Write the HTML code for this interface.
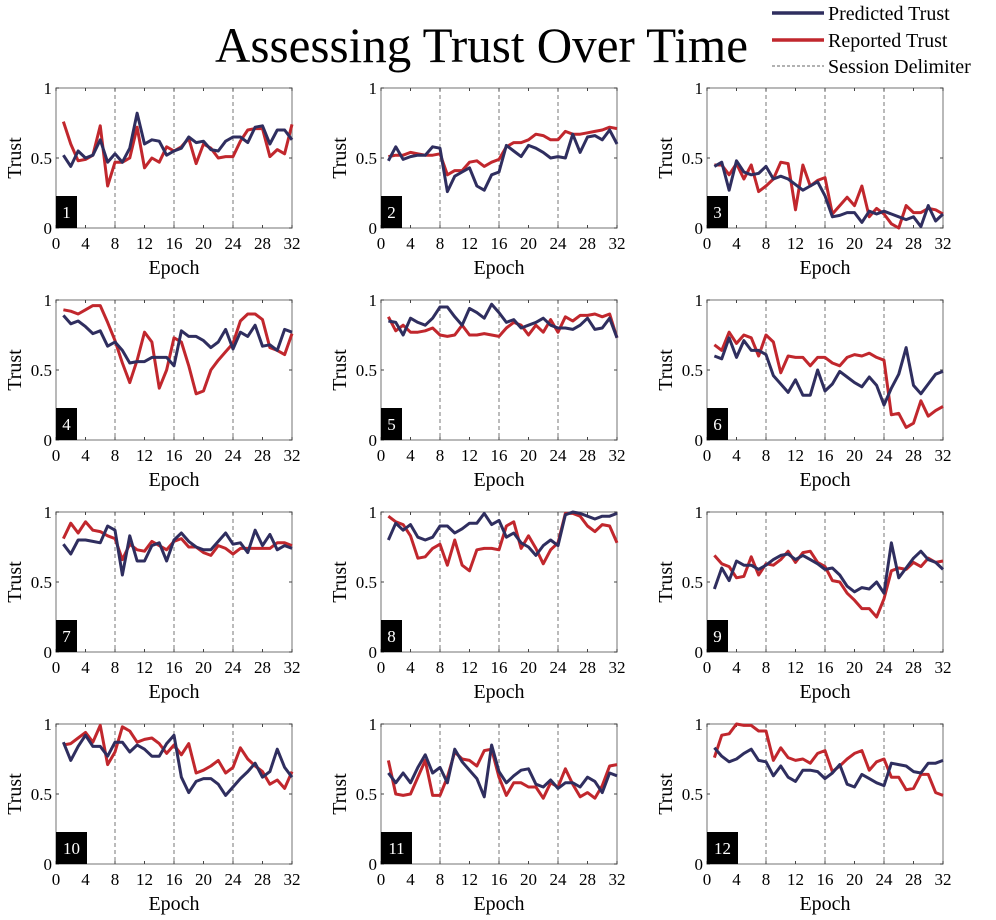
<!DOCTYPE html>
<html><head><meta charset="utf-8"><style>
body{margin:0;background:#fff;width:996px;height:915px;overflow:hidden;font-family:"Liberation Serif",serif}
svg text{font-family:"Liberation Serif",serif}
</style></head><body>
<svg id="chart" width="996" height="915" xmlns="http://www.w3.org/2000/svg">
<text x="215" y="62" font-size="50" textLength="533" lengthAdjust="spacingAndGlyphs">Assessing Trust Over Time</text>
<g>
<line x1="772" y1="13" x2="824" y2="13" stroke="#2f2e5f" stroke-width="3.5"/>
<text x="828" y="20" font-size="20">Predicted Trust</text>
<line x1="772" y1="40" x2="824" y2="40" stroke="#c1272d" stroke-width="3.5"/>
<text x="828" y="47" font-size="20">Reported Trust</text>
<line x1="772" y1="66" x2="824" y2="66" stroke="#666" stroke-width="1" stroke-dasharray="3,2"/>
<text x="828" y="73" font-size="20">Session Delimiter</text>
</g>
<g id="plots"></g>
</svg>
<script>
const epochs=[1,2,3,4,5,6,7,8,9,10,11,12,13,14,15,16,17,18,19,20,21,22,23,24,25,26,27,28,29,30,31,32];
const xTicks=[0,4,8,12,16,20,24,28,32];
const yTicks=[0,0.5,1];
const yTickLabels=["0","0.5","1"];
const delimiters=[8,16,24];
const predicted1=[.52,.44,.55,.50,.52,.63,.47,.53,.47,.57,.82,.60,.63,.62,.52,.55,.57,.65,.61,.62,.56,.55,.62,.65,.65,.61,.72,.73,.60,.70,.70,.63];
const reported1=[.76,.60,.48,.49,.52,.73,.30,.47,.47,.50,.72,.43,.50,.47,.58,.55,.58,.64,.46,.60,.57,.50,.51,.51,.62,.70,.71,.71,.51,.56,.53,.74];
const predicted2=[.48,.58,.49,.51,.52,.52,.58,.57,.26,.37,.40,.43,.30,.27,.38,.40,.59,.55,.51,.59,.57,.54,.50,.51,.50,.67,.54,.65,.66,.63,.70,.60];
const reported2=[.51,.52,.52,.54,.53,.52,.52,.53,.38,.41,.41,.47,.48,.44,.47,.49,.58,.61,.61,.63,.67,.66,.63,.63,.69,.67,.67,.68,.69,.70,.72,.71];
const predicted3=[.44,.47,.27,.48,.40,.38,.39,.44,.35,.37,.35,.31,.27,.30,.33,.23,.08,.09,.11,.11,.04,.12,.10,.12,.10,.08,.06,.08,.01,.16,.05,.10];
const reported3=[.45,.45,.38,.46,.35,.45,.26,.30,.35,.47,.46,.13,.45,.30,.34,.36,.10,.16,.22,.16,.30,.08,.14,.10,.03,.00,.16,.11,.11,.14,.13,.10];
const predicted4=[.89,.83,.85,.81,.76,.78,.67,.70,.64,.55,.56,.56,.59,.59,.59,.53,.78,.74,.74,.71,.66,.70,.79,.65,.77,.74,.82,.67,.68,.64,.79,.77];
const reported4=[.93,.92,.90,.93,.96,.96,.84,.71,.55,.41,.57,.77,.70,.37,.50,.73,.70,.53,.33,.35,.50,.57,.63,.69,.85,.90,.90,.86,.66,.64,.61,.76];
const predicted5=[.85,.84,.75,.87,.84,.82,.87,.95,.95,.88,.82,.94,.91,.87,.97,.91,.84,.86,.80,.82,.84,.87,.82,.80,.80,.79,.82,.87,.79,.80,.87,.73];
const reported5=[.88,.78,.82,.77,.77,.78,.80,.75,.74,.75,.82,.75,.75,.76,.75,.74,.80,.84,.82,.75,.82,.77,.86,.77,.88,.85,.89,.89,.90,.88,.90,.73];
const predicted6=[.60,.58,.73,.59,.71,.64,.64,.61,.46,.40,.34,.43,.32,.32,.50,.35,.40,.49,.45,.41,.38,.45,.39,.25,.37,.47,.66,.39,.33,.40,.47,.49];
const reported6=[.68,.64,.77,.69,.75,.73,.60,.75,.70,.48,.60,.59,.59,.53,.59,.59,.55,.53,.59,.61,.60,.62,.59,.57,.18,.19,.09,.12,.28,.17,.21,.24];
const predicted7=[.77,.70,.80,.80,.79,.78,.90,.87,.55,.83,.65,.65,.76,.78,.65,.80,.85,.79,.75,.73,.73,.79,.85,.77,.78,.71,.87,.76,.84,.73,.76,.74];
const reported7=[.81,.92,.85,.93,.87,.86,.83,.81,.66,.77,.73,.72,.79,.76,.73,.79,.81,.75,.75,.71,.69,.76,.74,.70,.74,.74,.74,.74,.74,.78,.78,.76];
const predicted8=[.80,.92,.87,.91,.82,.80,.82,.90,.90,.85,.88,.92,.92,.99,.91,.94,.82,.85,.78,.75,.69,.76,.80,.76,.98,1.0,.99,.97,.95,.97,.97,.99];
const reported8=[.97,.93,.91,.83,.67,.68,.74,.77,.62,.80,.62,.58,.73,.74,.74,.73,.90,.93,.74,.83,.74,.63,.73,.78,.99,.99,.97,.90,.86,.91,.90,.78];
const predicted9=[.45,.60,.51,.65,.62,.62,.59,.62,.66,.69,.70,.66,.69,.66,.63,.59,.60,.55,.47,.43,.46,.45,.50,.42,.78,.53,.60,.67,.72,.66,.64,.59];
const reported9=[.69,.63,.61,.53,.54,.68,.55,.63,.62,.66,.72,.64,.71,.72,.64,.61,.51,.50,.42,.37,.31,.31,.25,.38,.58,.60,.59,.64,.61,.67,.64,.65];
const predicted10=[.87,.74,.84,.92,.84,.84,.77,.87,.87,.80,.85,.82,.77,.77,.86,.92,.62,.51,.59,.61,.61,.57,.49,.55,.61,.66,.72,.62,.66,.82,.69,.62];
const reported10=[.85,.86,.90,.94,.87,.99,.71,.80,.98,.95,.87,.89,.90,.86,.79,.85,.78,.86,.65,.67,.70,.74,.65,.69,.83,.75,.70,.66,.57,.60,.54,.66];
const predicted11=[.65,.58,.65,.58,.69,.78,.65,.69,.58,.82,.73,.67,.61,.48,.85,.66,.58,.63,.67,.68,.57,.55,.60,.54,.58,.58,.55,.62,.59,.51,.65,.63];
const reported11=[.74,.50,.49,.50,.62,.74,.49,.49,.62,.80,.75,.74,.70,.81,.82,.62,.49,.58,.58,.55,.55,.47,.58,.55,.68,.57,.48,.51,.47,.56,.70,.71];
const predicted12=[.83,.77,.73,.75,.79,.82,.74,.73,.63,.70,.62,.59,.67,.67,.66,.61,.65,.71,.57,.55,.64,.61,.58,.56,.72,.71,.70,.66,.65,.72,.72,.74];
const reported12=[.76,.92,.93,1.0,.99,.99,.95,.95,.74,.83,.76,.74,.75,.72,.79,.81,.66,.70,.75,.79,.81,.67,.73,.75,.62,.62,.53,.54,.64,.64,.51,.49];
const predictedAll=[predicted1,predicted2,predicted3,predicted4,predicted5,predicted6,predicted7,predicted8,predicted9,predicted10,predicted11,predicted12];
const reportedAll=[reported1,reported2,reported3,reported4,reported5,reported6,reported7,reported8,reported9,reported10,reported11,reported12];

const NS="http://www.w3.org/2000/svg";
const root=document.getElementById('plots');
function mk(tag,attrs,parent){const e=document.createElementNS(NS,tag);for(const k in attrs)e.setAttribute(k,attrs[k]);parent.appendChild(e);return e;}
const colLeft=[56,381,707], W=236, rowTop=[88,300,512,724], H=140;
for(let p=0;p<12;p++){
  const L=colLeft[p%3], T=rowTop[Math.floor(p/3)];
  const xs=v=>L+v/32*W, ys=v=>T+H-v*H;
  const g=mk('g',{},root);
  
  
  delimiters.forEach(d=>{const l=mk('line',{x1:xs(d),x2:xs(d),y1:T,y2:T+H,stroke:'#777','stroke-width':1,'stroke-dasharray':'4,3'},g);
    
    });
  const box=mk('rect',{x:L,y:T,width:W,height:H,fill:'none',stroke:'#8a8a8a','stroke-width':1.2},g);
  
  
  xTicks.forEach(t=>{mk('line',{x1:xs(t),x2:xs(t),y1:T+H,y2:T+H-3,stroke:'#444'},g);mk('line',{x1:xs(t),x2:xs(t),y1:T,y2:T+3,stroke:'#444'},g);
    const tx=mk('text',{x:xs(t),y:T+H+21,'font-size':17,'text-anchor':'middle'},g);tx.textContent=t;
    
    });
  yTicks.forEach((t,i)=>{mk('line',{x1:L,x2:L+3,y1:ys(t),y2:ys(t),stroke:'#444'},g);mk('line',{x1:L+W,x2:L+W-3,y1:ys(t),y2:ys(t),stroke:'#444'},g);
    const tx=mk('text',{x:L-4,y:ys(t)+6,'font-size':17,'text-anchor':'end'},g);tx.textContent=yTickLabels[i];
    
    });
  const xl=mk('text',{x:L+W/2,y:T+H+46,'font-size':20,'text-anchor':'middle'},g);xl.textContent='Epoch';
  
  
  const yl=mk('text',{x:0,y:0,'font-size':20,'text-anchor':'middle',transform:`translate(${L-35},${T+H/2}) rotate(-90)`},g);yl.textContent='Trust';
  
  
  [[reportedAll[p],'#c1272d','reported-trust-line'],[predictedAll[p],'#2f2e5f','predicted-trust-line']].forEach(([arr,c,n])=>{
    const pl=mk('polyline',{points:arr.map((v,i)=>xs(epochs[i])+','+ys(v)).join(' '),fill:'none',stroke:c,'stroke-width':3,'stroke-linejoin':'round'},g);
    
    
  });
  const bw=p>=9?31:21;
  const b=mk('rect',{x:L,y:T+H-32,width:bw,height:32,fill:'#000'},g);
  
  
  const bt=mk('text',{x:L+bw/2,y:T+H-10,'font-size':17,fill:'#fff','text-anchor':'middle'},g);bt.textContent=p+1;
  
  
}
</script>
</body></html>
